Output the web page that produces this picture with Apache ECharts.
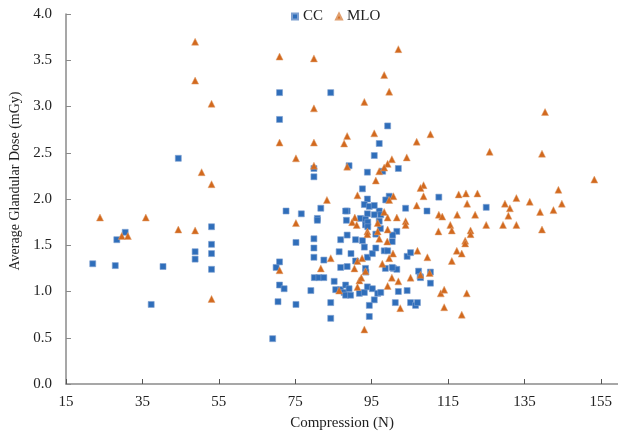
<!DOCTYPE html>
<html>
<head>
<meta charset="utf-8">
<script src="https://cdn.jsdelivr.net/npm/echarts@6/dist/echarts.min.js"></script>
<style>
    html, body { margin: 0; padding: 0; background: #fff; }
    #main { width: 618px; height: 436px; }
</style>
</head>
<body>
<div id="main"></div>
<script>
// tick values for the axes
var xTicks = [15, 35, 55, 75, 95, 115, 135, 155];
var yTicks = [0, 0.5, 1, 1.5, 2, 2.5, 3, 3.5, 4];

// CC points [compression N, dose mGy]
var ccData = [
    [22, 1.30], [28.3, 1.56], [27.9, 1.28], [30.5, 1.64], [37.3, 0.86], [40.4, 1.27], [44.4, 2.44],
    [48.8, 1.43], [48.8, 1.35], [53.1, 1.70], [53.1, 1.51], [53.1, 1.41], [53.1, 1.24],
    [69.1, 0.49], [70, 1.26], [70.9, 1.32], [70.9, 1.07], [72.1, 1.03], [70.5, 0.89], [75.2, 1.53],
    [75.2, 0.86], [72.6, 1.87], [76.6, 1.84], [70.9, 3.15], [70.9, 2.86],
    [84.3, 3.15], [99.2, 2.79], [97.0, 2.60], [95.7, 2.47], [79.9, 2.33], [79.9, 2.24], [89.1, 2.36],
    [93.9, 2.29], [97.9, 2.30], [102.0, 2.33], [92.6, 2.11], [93.9, 2.00], [99.6, 2.03], [98.7, 1.99],
    [112.6, 2.02], [125.0, 1.91], [81.7, 1.90], [88.6, 1.87], [88.2, 1.87], [93.9, 1.84], [97.0, 1.87],
    [103.9, 1.90], [109.5, 1.87], [80.8, 1.79], [92.1, 1.79], [93.1, 1.94], [94.4, 1.92], [95.7, 1.93],
    [95.7, 1.83], [97.4, 1.83], [93.4, 1.78], [80.8, 1.77], [88.4, 1.77], [93.4, 1.72], [94.0, 1.75],
    [94.0, 1.70], [97.0, 1.76], [97.3, 1.68], [101.6, 1.65], [96.1, 1.62], [100.5, 1.61], [79.9, 1.57],
    [86.9, 1.56], [88.6, 1.61], [90.8, 1.56], [92.6, 1.55], [93.1, 1.48], [100.4, 1.54], [79.9, 1.47],
    [86.5, 1.43], [79.9, 1.37], [82.5, 1.34], [89.6, 1.41], [90.8, 1.33], [93.9, 1.37], [95.2, 1.41],
    [96.1, 1.47], [98.3, 1.44], [99.2, 1.44], [104.3, 1.38], [105.2, 1.42], [86.9, 1.26], [88.6, 1.27],
    [93.4, 1.25], [98.6, 1.25], [100.7, 1.25], [101.6, 1.24], [100.4, 1.26], [93.5, 1.21], [107.3, 1.22],
    [110.4, 1.21], [107.7, 1.16], [80.0, 1.15], [81.2, 1.15], [82.5, 1.15], [85.2, 1.11], [107.8, 1.15],
    [110.4, 1.09], [79.1, 1.01], [85.6, 1.02], [86.9, 1.02], [87.8, 0.99], [88.2, 1.07], [89.1, 1.03],
    [88.2, 0.96], [89.5, 0.96], [91.8, 0.98], [93.1, 0.99], [93.9, 1.05], [95.2, 1.03], [96.6, 0.98],
    [97.4, 0.99], [95.7, 0.91], [94.4, 0.85], [94.4, 0.73], [84.3, 0.88], [84.3, 0.71], [102.0, 1.00],
    [104.3, 1.01], [101.2, 0.88], [105.2, 0.88], [106.5, 0.85], [107.0, 0.88]
];

// MLO points [compression N, dose mGy]
var mloData = [
    [23.9, 1.80], [35.9, 1.80], [29.6, 1.60], [31.2, 1.60], [44.4, 1.67], [48.8, 1.66], [53.1, 0.92],
    [70.9, 1.23], [75.2, 1.74], [48.8, 3.70], [48.8, 3.28], [53.1, 3.03], [50.5, 2.29], [53.1, 2.16],
    [70.9, 3.54], [70.9, 2.61], [75.2, 2.44],
    [79.9, 3.52], [102.0, 3.62], [98.3, 3.34], [99.6, 3.16], [93.1, 3.05], [79.9, 2.98], [140.4, 2.94],
    [88.6, 2.68], [95.7, 2.71], [110.4, 2.70], [87.8, 2.60], [79.9, 2.61], [106.8, 2.62], [125.9, 2.51],
    [139.6, 2.49], [104.2, 2.45], [100.3, 2.43], [79.9, 2.36], [88.6, 2.35], [99.2, 2.38], [98.3, 2.34],
    [97.0, 2.30], [96.1, 2.20], [153.3, 2.21], [108.6, 2.15], [107.8, 2.12], [143.9, 2.10], [83.3, 1.99],
    [91.3, 2.04], [100.7, 2.03], [99.6, 1.99], [108.6, 2.03], [117.8, 2.05], [119.7, 2.06], [122.7, 2.06],
    [132.9, 2.01], [129.9, 1.95], [131.2, 1.90], [136.4, 1.97], [139.1, 1.86], [142.6, 1.88], [144.8, 1.95],
    [120.0, 1.95], [98.3, 1.86], [106.8, 1.93], [112.6, 1.83], [113.5, 1.81], [117.4, 1.83], [122.1, 1.83],
    [130.8, 1.82], [90.6, 1.80], [99.2, 1.80], [101.6, 1.80], [89.9, 1.75], [91.1, 1.72], [96.6, 1.74],
    [103.9, 1.76], [103.9, 1.72], [93.9, 1.65], [93.9, 1.62], [96.6, 1.65], [99.2, 1.67], [112.5, 1.65],
    [115.6, 1.72], [116.0, 1.66], [120.9, 1.66], [120.9, 1.62], [125.0, 1.72], [129.4, 1.72], [132.9, 1.72],
    [139.6, 1.67], [97.0, 1.57], [99.1, 1.54], [119.5, 1.55], [119.5, 1.52], [84.3, 1.36], [91.3, 1.33],
    [92.5, 1.36], [100.6, 1.41], [99.6, 1.36], [107.0, 1.44], [109.6, 1.37], [117.3, 1.44], [118.6, 1.41],
    [116.0, 1.33], [81.7, 1.25], [90.5, 1.25], [93.4, 1.22], [97.8, 1.30], [107.8, 1.18], [110.2, 1.20],
    [91.8, 1.12], [92.3, 1.15], [100.3, 1.15], [102.0, 1.11], [105.2, 1.15], [86.5, 1.01], [91.3, 1.05],
    [99.2, 1.06], [102.5, 0.82], [113.1, 0.98], [114.0, 1.02], [119.9, 0.98], [114.0, 0.83], [118.6, 0.75],
    [93.1, 0.59]
];

window.onload = () => {
    var myChart = echarts.init(document.getElementById('main'));
    var font = '"Liberation Serif", "DejaVu Serif", serif';
    var axisCol = '#8a8a8a';
    var option = {
        animation: false,
        textStyle: { fontFamily: font },
        legend: {
            top: 4,
            left: 286,
            itemWidth: 6,
            itemHeight: 6,
            itemGap: 12,
            textStyle: { fontFamily: font, fontSize: 15, color: '#222' },
            data: [{ name: 'CC', icon: 'rect' }, { name: 'MLO', icon: 'triangle' }]
        },
        grid: { left: 66, right: 0, top: 14, bottom: 51 },
        xAxis: {
            type: 'value',
            min: 15,
            max: 159.5,
            interval: 20,
            name: 'Compression (N)',
            nameLocation: 'middle',
            nameGap: 32,
            nameTextStyle: { fontFamily: font, fontSize: 15, color: '#222' },
            splitLine: { show: false },
            axisLine: { lineStyle: { color: axisCol, width: 1.5 } },
            axisTick: { inside: true, length: 5, customValues: xTicks, lineStyle: { color: '#555' } },
            axisLabel: { customValues: xTicks, margin: 11, fontFamily: font, fontSize: 15, color: '#222' }
        },
        yAxis: {
            type: 'value',
            min: 0,
            max: 4,
            interval: 0.5,
            name: 'Average Glandular Dose (mGy)',
            nameLocation: 'middle',
            nameGap: 44,
            nameTextStyle: { fontFamily: font, fontSize: 14, color: '#222', padding: [0, 0, 0, 36] },
            splitLine: { show: false },
            axisLine: { show: true, lineStyle: { color: axisCol, width: 1.5 } },
            axisTick: { show: true, inside: true, length: 5, customValues: yTicks, lineStyle: { color: axisCol } },
            axisLabel: {
                customValues: yTicks,
                margin: 14,
                fontFamily: font,
                fontSize: 15,
                color: '#222',
                formatter: v => v.toFixed(1)
            }
        },
        series: [
            {
                name: 'CC',
                type: 'scatter',
                symbol: 'rect',
                symbolSize: 6,
                itemStyle: { color: '#2F6EBA', borderColor: '#7d9fd0', borderWidth: 0.6, opacity: 1 },
                data: ccData
            },
            {
                name: 'MLO',
                type: 'scatter',
                symbol: 'triangle',
                symbolSize: 7,
                itemStyle: { color: '#D2691E', borderColor: '#e0a070', borderWidth: 0.5, opacity: 1 },
                data: mloData
            }
        ]
    };
    option && myChart.setOption(option);
};
</script>
</body>
</html>
